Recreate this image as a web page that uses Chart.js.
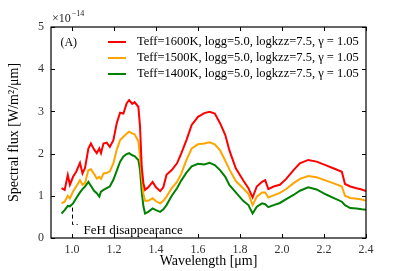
<!DOCTYPE html>
<html><head><meta charset="utf-8">
<script src="https://cdn.jsdelivr.net/npm/chart.js@4/dist/chart.umd.min.js"></script>
<style>html,body{margin:0;padding:0;background:#fff}#wrap{width:407px;height:271px}</style>
</head><body><div id="wrap"><canvas id="c" width="407" height="271"></canvas></div>
<script>
const wavelengths = [0.95,0.965,0.98,0.99,1.005,1.02,1.038,1.05,1.062,1.078,1.09,1.105,1.118,1.13,1.138,1.15,1.165,1.18,1.197,1.213,1.229,1.245,1.26,1.272,1.287,1.298,1.316,1.324,1.332,1.34,1.348,1.363,1.384,1.4,1.42,1.435,1.45,1.475,1.5,1.52,1.545,1.57,1.6,1.63,1.655,1.68,1.705,1.73,1.75,1.78,1.815,1.84,1.86,1.88,1.905,1.92,1.935,1.96,1.99,2.02,2.055,2.085,2.125,2.165,2.21,2.25,2.285,2.3,2.325,2.355,2.38,2.4];
const flux1600 = [1.18,1.14,1.49,1.26,1.45,1.57,1.78,1.53,1.66,2.12,2.24,2.10,2.01,2.12,2.01,2.24,2.26,2.16,2.32,2.72,2.97,2.95,3.19,3.27,3.18,3.22,3.11,2.64,1.69,1.30,1.14,1.20,1.33,1.20,1.11,1.20,1.50,1.61,1.77,2.00,2.32,2.68,2.87,2.96,2.99,2.95,2.72,2.44,2.07,1.65,1.37,1.18,0.96,1.22,1.33,1.37,1.16,1.22,1.26,1.40,1.61,1.77,1.85,1.81,1.72,1.64,1.57,1.28,1.22,1.18,1.15,1.11];
const flux1500 = [0.82,0.86,1.00,0.94,1.10,1.22,1.37,1.26,1.30,1.61,1.63,1.52,1.41,1.45,1.40,1.53,1.54,1.58,1.77,2.09,2.32,2.40,2.47,2.52,2.48,2.46,2.30,1.93,1.45,1.05,0.88,0.88,0.94,0.87,0.82,0.88,0.98,1.18,1.33,1.52,1.85,2.12,2.22,2.24,2.27,2.22,2.08,1.83,1.62,1.35,1.18,1.05,0.78,0.98,1.08,1.08,0.96,1.01,1.07,1.16,1.30,1.40,1.47,1.44,1.36,1.29,1.22,1.00,0.95,0.93,0.91,0.88];
const flux1400 = [0.58,0.66,0.76,0.75,0.82,0.94,1.08,1.16,1.22,1.33,1.24,1.12,1.06,0.98,1.10,1.14,1.18,1.22,1.38,1.59,1.81,1.93,1.99,2.01,1.96,1.94,1.85,1.61,1.10,0.75,0.58,0.62,0.70,0.66,0.62,0.68,0.78,1.00,1.18,1.36,1.55,1.70,1.76,1.74,1.78,1.73,1.61,1.45,1.25,1.08,0.88,0.78,0.58,0.74,0.82,0.80,0.73,0.78,0.83,0.92,1.02,1.12,1.20,1.15,1.03,0.94,0.86,0.78,0.71,0.70,0.68,0.67];
const seriesLabels = ["Teff=1600K, logg=5.0, logkzz=7.5, \u03b3 = 1.05","Teff=1500K, logg=5.0, logkzz=7.5, \u03b3 = 1.05","Teff=1400K, logg=5.0, logkzz=7.5, \u03b3 = 1.05"];
const seriesColors = ["#ff0000","#ffa500","#008000"];
const xTicks = [1.0,1.2,1.4,1.6,1.8,2.0,2.2,2.4];
const yTicks = [0,1,2,3,4,5];
const panelLabel = "(A)";
const annotationText = "FeH disappearance";
const annotationPoint = [1.0, 0.72];

const SERIF = "'Liberation Serif', 'DejaVu Serif', serif";
const allFlux = [flux1600, flux1500, flux1400];
const datasets = allFlux.map((f,i)=>({
  label: seriesLabels[i],
  data: wavelengths.map((w,j)=>({x:w,y:f[j]})),
  borderColor: seriesColors[i], backgroundColor: seriesColors[i],
  borderWidth: 2, pointRadius: 0, tension: 0, fill:false
}));

const deco = {
  id:'deco',
  afterDraw(chart){
    const {ctx, chartArea:a, scales:{x,y}} = chart;
    ctx.save();
    ctx.strokeStyle='#000'; ctx.lineWidth=1.2;
    ctx.strokeRect(a.left, a.top, a.right-a.left, a.bottom-a.top);
    ctx.lineWidth=1;
    ctx.beginPath();
    xTicks.forEach(v=>{const px=Math.round(x.getPixelForValue(v))+0.5;
      ctx.moveTo(px,a.bottom); ctx.lineTo(px,a.bottom-4);
      ctx.moveTo(px,a.top); ctx.lineTo(px,a.top+4);});
    yTicks.forEach(v=>{const py=Math.round(y.getPixelForValue(v))+0.5;
      ctx.moveTo(a.left,py); ctx.lineTo(a.left+4,py);
      ctx.moveTo(a.right,py); ctx.lineTo(a.right-4,py);});
    ctx.stroke();
    ctx.fillStyle='#222';
    ctx.font="12px "+SERIF; ctx.textBaseline='alphabetic'; ctx.textAlign='left';
    ctx.fillText("\u00d710", a.left+1, a.top-5);
    const w10 = ctx.measureText("\u00d710").width;
    ctx.font="8px "+SERIF;
    ctx.fillText("\u221214", a.left+1+w10+1, a.top-11);
    ctx.font="12px "+SERIF; ctx.fillStyle='#000';
    ctx.fillText(panelLabel, x.getPixelForValue(0.945), y.getPixelForValue(4.55));
    ctx.font="12.5px "+SERIF;
    seriesLabels.forEach((lab,i)=>{
      const yy = 42 + i*16;
      ctx.strokeStyle=seriesColors[i]; ctx.lineWidth=2;
      ctx.beginPath(); ctx.moveTo(108,yy); ctx.lineTo(126,yy); ctx.stroke();
      ctx.fillStyle='#000'; ctx.textBaseline='middle';
      ctx.fillText(lab, 137, yy);
    });
    const ax = x.getPixelForValue(annotationPoint[0]);
    const ay = y.getPixelForValue(annotationPoint[1]);
    const by = y.getPixelForValue(0.32);
    const bx = x.getPixelForValue(1.027);
    ctx.strokeStyle='#000'; ctx.lineWidth=1; ctx.setLineDash([4,3]);
    ctx.beginPath(); ctx.moveTo(Math.round(ax)+0.5, ay); ctx.lineTo(Math.round(ax)+0.5, by); ctx.lineTo(bx, by); ctx.stroke();
    ctx.setLineDash([]);
    ctx.font="13px "+SERIF; ctx.fillStyle='#000'; ctx.textBaseline='middle'; ctx.textAlign='left';
    ctx.fillText(annotationText, x.getPixelForValue(1.055), y.getPixelForValue(0.18));
    ctx.restore();
  }
};

new Chart(document.getElementById('c'), {
  type:'line',
  data:{datasets},
  options:{
    responsive:false, animation:false, devicePixelRatio:1,
    layout:{padding:{top:27,right:41,left:0,bottom:0}},
    plugins:{legend:{display:false}, tooltip:{enabled:false}},
    scales:{
      x:{type:'linear', min:0.9, max:2.4,
        afterBuildTicks(s){s.ticks = xTicks.map(v=>({value:v}));},
        afterFit(s){s.height=33;},
        grid:{display:false, drawTicks:false}, border:{display:false},
        ticks:{padding:5, color:'#333', font:{family:SERIF,size:12}, maxRotation:0, callback:v=>v.toFixed(1)},
        title:{display:true, text:'Wavelength [\u03bcm]', color:'#000', font:{family:SERIF,size:14}, padding:{top:0,bottom:1}}
      },
      y:{type:'linear', min:0, max:5,
        afterBuildTicks(s){s.ticks = yTicks.map(v=>({value:v}));},
        afterFit(s){s.width=51;},
        grid:{display:false, drawTicks:false}, border:{display:false},
        ticks:{padding:7, color:'#333', font:{family:SERIF,size:12}, callback:v=>String(v)},
        title:{display:true, text:'Spectral flux [W/m\u00b2/\u03bcm]', color:'#000', font:{family:SERIF,size:14}, padding:{top:6,bottom:0}}
      }
    }
  },
  plugins:[deco]
});
</script></body></html>
